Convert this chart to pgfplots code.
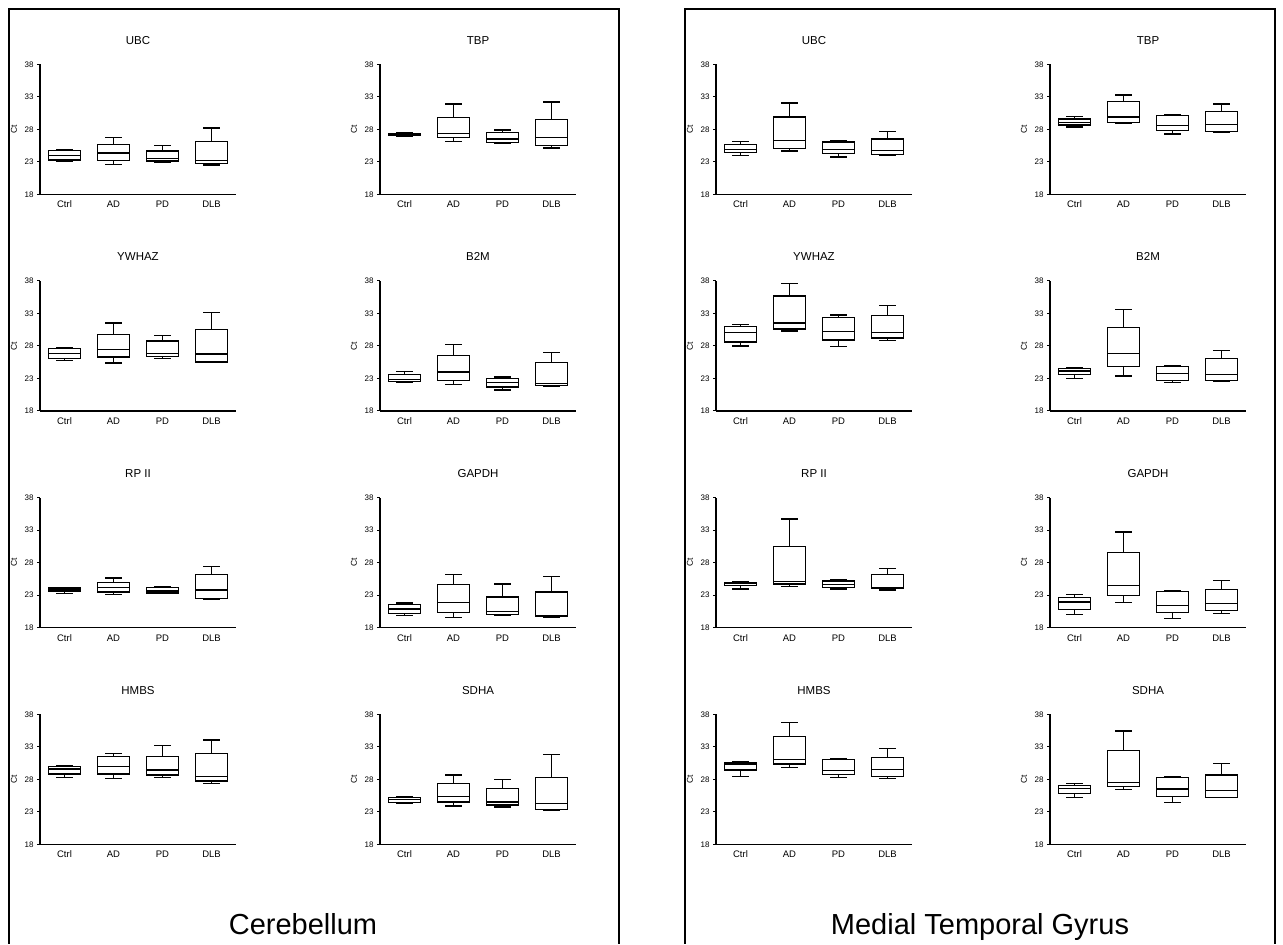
\documentclass[border=0pt]{standalone}
\usepackage{fontspec}
\setmainfont{Liberation Sans}
\usepackage{pgfplots}
\pgfplotsset{compat=1.18}
\usepgfplotslibrary{statistics}

% one box: position, lower whisker, Q1, median, Q3, upper whisker
\newcommand{\bx}[6]{\addplot[black, line width=1.4pt, boxplot/draw direction=y,
  boxplot prepared={draw position=#1,
  lower whisker=#2, lower quartile=#3, median=#4, upper quartile=#5, upper whisker=#6}]
  coordinates {};}

\pgfplotsset{
  gene/.style={
    width=196pt, height=130pt, scale only axis, anchor=south west,
    axis lines=left, axis line style={-, line width=1.4pt},
    xmin=0.5, xmax=4.5, ymin=18, ymax=38,
    xtick={1,2,3,4}, xticklabels={Ctrl,AD,PD,DLB},
    ytick={18,23,28,33,38},
    tick align=outside, major tick length=3pt,
    x tick style={draw=none},
    y tick style={line width=1pt, black},
    yticklabel style={font=\fontsize{8}{9}\selectfont},
    xticklabel style={font=\fontsize{9.5}{10}\selectfont, text height=7pt, text depth=0pt},
    /pgf/number format/assume math mode=true,
    ylabel={Ct},
    ylabel style={at={(axis description cs:-0.133,0.5)}, anchor=center, font=\fontsize{8.5}{9}\selectfont},
    title style={at={(axis description cs:0.5,1)}, anchor=base, yshift=14pt, font=\fontsize{11.5}{12}\selectfont},
    boxplot/draw direction=y,
    boxplot/box extend=0.66, boxplot/whisker extend=0.33,
    clip=false,
  }
}

\begin{document}
\begin{tikzpicture}
\path (0pt,0pt) rectangle (1283pt,944pt);
\draw[line width=1.5pt] (9pt,0pt) -- (9pt,935pt) -- (619pt,935pt) -- (619pt,0pt);
\draw[line width=1.5pt] (685pt,0pt) -- (685pt,935pt) -- (1275pt,935pt) -- (1275pt,0pt);
\node[anchor=base, font=\fontsize{29}{30}\selectfont] at (303pt,9pt) {Cerebellum};
\node[anchor=base, font=\fontsize{29}{30}\selectfont] at (980pt,9pt) {Medial Temporal Gyrus};

% ---------------- Cerebellum ----------------
\begin{axis}[gene, at={(40pt,749.7pt)}, title={UBC}]
\bx{1}{23.13}{23.28}{24.00}{24.72}{24.92}
\bx{2}{22.56}{23.18}{24.36}{25.69}{26.77}
\bx{3}{22.92}{23.13}{23.49}{24.67}{25.49}
\bx{4}{22.51}{22.72}{23.18}{26.15}{28.20}
\end{axis}
\begin{axis}[gene, at={(380pt,749.7pt)}, title={TBP}]
\bx{1}{26.92}{27.03}{27.18}{27.33}{27.49}
\bx{2}{26.15}{26.72}{27.33}{29.79}{31.90}
\bx{3}{25.85}{26.00}{26.51}{27.49}{27.90}
\bx{4}{25.13}{25.54}{26.77}{29.54}{32.20}
\end{axis}
\begin{axis}[gene, at={(40pt,533pt)}, title={YWHAZ}]
\bx{1}{25.79}{26.05}{26.87}{27.59}{27.74}
\bx{2}{25.38}{26.31}{27.49}{29.79}{31.54}
\bx{3}{26.05}{26.41}{26.82}{28.77}{29.59}
\bx{4}{25.44}{25.54}{26.77}{30.56}{33.18}
\end{axis}
\begin{axis}[gene, at={(380pt,533pt)}, title={B2M}]
\bx{1}{22.41}{22.51}{22.87}{23.64}{24.10}
\bx{2}{22.10}{22.72}{24.00}{26.51}{28.26}
\bx{3}{21.23}{21.69}{22.36}{23.03}{23.23}
\bx{4}{21.74}{21.90}{22.20}{25.49}{27.03}
\end{axis}
\begin{axis}[gene, at={(40pt,316.3pt)}, title={RP II}]
\bx{1}{23.28}{23.59}{23.79}{24.10}{24.20}
\bx{2}{23.13}{23.49}{24.20}{24.97}{25.64}
\bx{3}{23.23}{23.33}{23.64}{24.15}{24.36}
\bx{4}{22.36}{22.51}{23.79}{26.20}{27.38}
\end{axis}
\begin{axis}[gene, at={(380pt,316.3pt)}, title={GAPDH}]
\bx{1}{19.90}{20.20}{20.87}{21.54}{21.79}
\bx{2}{19.59}{20.31}{21.85}{24.62}{26.15}
\bx{3}{19.90}{20.00}{20.51}{22.72}{24.72}
\bx{4}{19.54}{19.69}{19.79}{23.49}{25.90}
\end{axis}
\begin{axis}[gene, at={(40pt,99.7pt)}, title={HMBS}]
\bx{1}{28.31}{28.82}{29.59}{29.95}{30.10}
\bx{2}{28.10}{28.82}{30.00}{31.49}{31.95}
\bx{3}{28.26}{28.67}{29.44}{31.49}{33.18}
\bx{4}{27.33}{27.74}{28.41}{32.00}{34.05}
\end{axis}
\begin{axis}[gene, at={(380pt,99.7pt)}, title={SDHA}]
\bx{1}{24.36}{24.46}{24.87}{25.18}{25.28}
\bx{2}{23.90}{24.51}{25.38}{27.33}{28.67}
\bx{3}{23.74}{24.05}{24.51}{26.56}{27.95}
\bx{4}{23.18}{23.33}{24.31}{28.31}{31.85}
\end{axis}

% ---------------- Medial Temporal Gyrus ----------------
\begin{axis}[gene, at={(716pt,749.7pt)}, title={UBC}]
\bx{1}{23.98}{24.39}{24.86}{25.63}{26.14}
\bx{2}{24.65}{25.01}{26.25}{29.91}{32.07}
\bx{3}{23.72}{24.29}{24.86}{26.04}{26.30}
\bx{4}{24.03}{24.13}{24.75}{26.50}{27.69}
\end{axis}
\begin{axis}[gene, at={(1050pt,749.7pt)}, title={TBP}]
\bx{1}{28.36}{28.67}{29.08}{29.60}{30.01}
\bx{2}{28.98}{29.08}{29.91}{32.23}{33.26}
\bx{3}{27.28}{27.79}{28.62}{30.11}{30.32}
\bx{4}{27.48}{27.64}{28.72}{30.73}{31.92}
\end{axis}
\begin{axis}[gene, at={(716pt,533pt)}, title={YWHAZ}]
\bx{1}{28.00}{28.62}{30.05}{31.03}{31.28}
\bx{2}{30.31}{30.62}{31.54}{35.69}{37.64}
\bx{3}{27.95}{28.92}{30.26}{32.41}{32.77}
\bx{4}{28.82}{29.23}{30.10}{32.72}{34.20}
\end{axis}
\begin{axis}[gene, at={(1050pt,533pt)}, title={B2M}]
\bx{1}{22.97}{23.59}{24.15}{24.51}{24.67}
\bx{2}{23.38}{24.87}{26.82}{30.87}{33.59}
\bx{3}{22.41}{22.67}{23.79}{24.87}{24.97}
\bx{4}{22.56}{22.67}{23.64}{26.10}{27.28}
\end{axis}
\begin{axis}[gene, at={(716pt,316.3pt)}, title={RP II}]
\bx{1}{23.95}{24.46}{24.77}{24.97}{25.08}
\bx{2}{24.31}{24.72}{25.13}{30.46}{34.72}
\bx{3}{23.95}{24.15}{24.67}{25.18}{25.33}
\bx{4}{23.79}{24.00}{24.15}{26.20}{27.13}
\end{axis}
\begin{axis}[gene, at={(1050pt,316.3pt)}, title={GAPDH}]
\bx{1}{20.00}{20.82}{21.95}{22.67}{23.08}
\bx{2}{21.90}{22.92}{24.51}{29.59}{32.72}
\bx{3}{19.44}{20.31}{21.44}{23.59}{23.64}
\bx{4}{20.20}{20.62}{21.74}{23.85}{25.23}
\end{axis}
\begin{axis}[gene, at={(716pt,99.7pt)}, title={HMBS}]
\bx{1}{28.46}{29.44}{30.36}{30.51}{30.72}
\bx{2}{29.85}{30.36}{31.03}{34.62}{36.77}
\bx{3}{28.31}{28.72}{29.33}{31.08}{31.23}
\bx{4}{28.15}{28.46}{29.49}{31.33}{32.72}
\end{axis}
\begin{axis}[gene, at={(1050pt,99.7pt)}, title={SDHA}]
\bx{1}{25.18}{25.79}{26.56}{27.03}{27.33}
\bx{2}{26.46}{26.87}{27.49}{32.41}{35.44}
\bx{3}{24.46}{25.33}{26.51}{28.31}{28.36}
\bx{4}{25.18}{25.23}{26.31}{28.67}{30.41}
\end{axis}
\end{tikzpicture}
\end{document}
